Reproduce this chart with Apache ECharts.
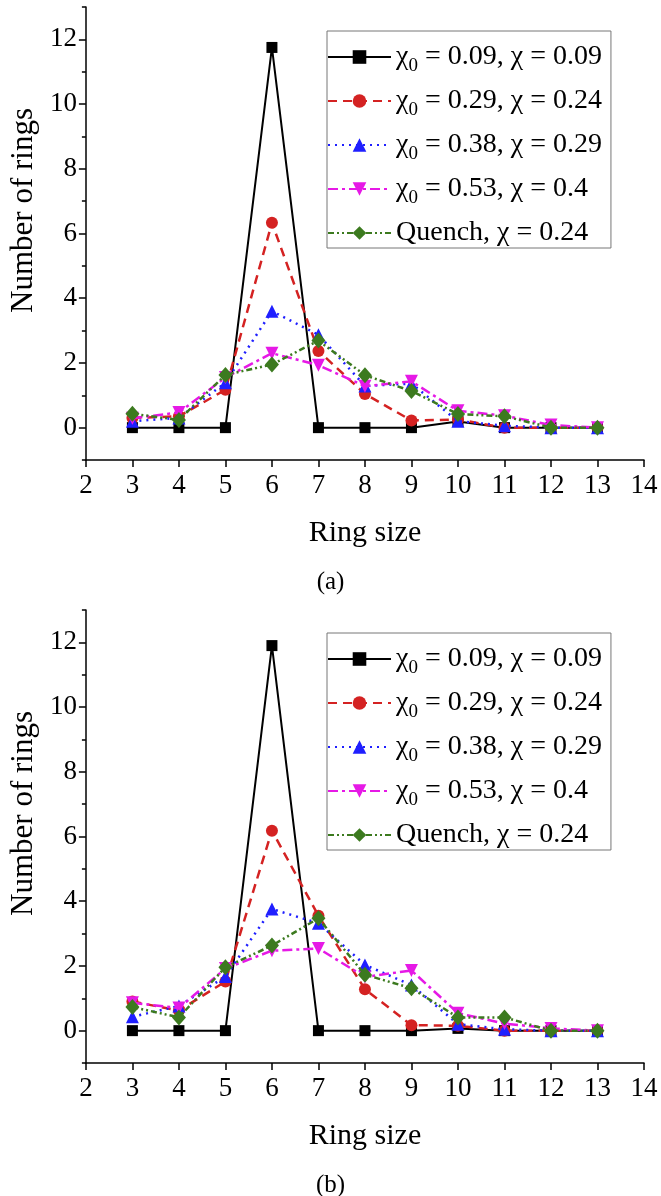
<!DOCTYPE html>
<html>
<head>
<meta charset="utf-8">
<script src="https://cdn.jsdelivr.net/npm/echarts@6/dist/echarts.min.js"></script>
<style>
  html, body { margin: 0; padding: 0; background: #fff; }
  #chart { width: 661px; height: 1196px; }
</style>
</head>
<body>
<div id="chart"></div>
<script>
// ring sizes on the x axis
const ringSize = [3, 4, 5, 6, 7, 8, 9, 10, 11, 12, 13]
const yMajor = [0, 2, 4, 6, 8, 10, 12]
const yMinor = [-1, 1, 3, 5, 7, 9, 11, 13]

const seriesNames = [
  'χ0 = 0.09, χ = 0.09',
  'χ0 = 0.29, χ = 0.24',
  'χ0 = 0.38, χ = 0.29',
  'χ0 = 0.53, χ = 0.4',
  'Quench, χ = 0.24'
]

// panel (a)
const a_009 = [0, 0, 0, 11.75, 0, 0, 0, 0.19, 0, 0, 0]
const a_029 = [0.3, 0.35, 1.17, 6.33, 2.37, 1.04, 0.22, 0.25, 0, 0, 0]
const a_038 = [0.2, 0.3, 1.39, 3.6, 2.87, 1.29, 1.36, 0.2, 0.06, 0, 0]
const a_053 = [0.29, 0.47, 1.55, 2.3, 1.93, 1.28, 1.43, 0.52, 0.37, 0.08, 0]
const a_quench = [0.43, 0.24, 1.63, 1.95, 2.69, 1.62, 1.13, 0.42, 0.35, 0, 0]

// panel (b)
const b_009 = [0, 0, 0, 11.9, 0, 0, 0, 0.07, 0, 0, 0]
const b_029 = [0.9, 0.62, 1.52, 6.18, 3.55, 1.28, 0.17, 0.15, 0, 0, 0]
const b_038 = [0.43, 0.76, 1.67, 3.76, 3.32, 2.03, 1.41, 0.2, 0.04, 0, 0]
const b_053 = [0.86, 0.7, 1.92, 2.47, 2.54, 1.66, 1.86, 0.54, 0.22, 0.07, 0]
const b_quench = [0.73, 0.41, 1.96, 2.63, 3.47, 1.73, 1.31, 0.41, 0.41, 0, 0]

const FONT = 'Liberation Serif'
const downTri = 'path://M0,0 L10,0 L5,9 Z'

const styles = [
  { color: '#000000', type: 'solid', width: 2, symbol: 'rect', size: 11 },
  { color: '#d42222', type: [9, 6], width: 2.5, symbol: 'circle', size: 12 },
  { color: '#1f1fff', type: [2, 5], width: 2.5, symbol: 'triangle', size: 13 },
  { color: '#e619e6', type: [10, 4, 3, 4], width: 2.5, symbol: downTri, size: 13 },
  { color: '#3c7a1f', type: [6, 3, 2, 3, 2, 3], width: 2.5, symbol: 'diamond', size: [14, 16] }
]

const makeSeries = (arrays, g) => arrays.map((vals, i) => ({
  name: seriesNames[i],
  type: 'line',
  xAxisIndex: g,
  yAxisIndex: g * 2,
  data: ringSize.map((x, k) => [x, vals[k]]),
  symbol: styles[i].symbol,
  symbolSize: styles[i].size,
  showAllSymbol: true,
  itemStyle: { color: styles[i].color },
  lineStyle: { color: styles[i].color, width: styles[i].width, type: styles[i].type },
  z: 2 + i
}))

const axisColor = '#000'
const makeX = (g) => ({
  type: 'value',
  gridIndex: g,
  min: 2,
  max: 14,
  interval: 1,
  axisLine: { show: true, onZero: false, lineStyle: { color: axisColor, width: 1.5 } },
  axisTick: { show: true, length: 7, lineStyle: { color: axisColor, width: 1.5 } },
  axisLabel: { fontFamily: FONT, fontSize: 27, color: '#000', margin: 12 },
  splitLine: { show: false },
  name: 'Ring size',
  nameLocation: 'middle',
  nameGap: 58,
  nameTextStyle: { fontFamily: FONT, fontSize: 30, color: '#000' }
})

const makeY = (g) => ([
  {
    type: 'value',
    gridIndex: g,
    position: 'left',
    min: -1,
    max: 13,
    axisLine: { show: true, onZero: false, lineStyle: { color: axisColor, width: 1.5 } },
    axisTick: { show: true, length: 7, customValues: yMajor, lineStyle: { color: axisColor, width: 1.5 } },
    axisLabel: { customValues: yMajor, fontFamily: FONT, fontSize: 27, color: '#000', margin: 9 },
    splitLine: { show: false },
    name: 'Number of rings',
    nameLocation: 'middle',
    nameRotate: 90,
    nameGap: 42,
    nameTextStyle: { fontFamily: FONT, fontSize: 31, color: '#000', padding: [0, 0, 0, 46] }
  },
  {
    type: 'value',
    gridIndex: g,
    position: 'left',
    offset: 0,
    min: -1,
    max: 13,
    axisLine: { show: false },
    axisTick: { show: true, length: 4, customValues: yMinor, lineStyle: { color: axisColor, width: 1.5 } },
    axisLabel: { show: false },
    splitLine: { show: false }
  }
])

const makeLegend = (top) => ({
  orient: 'vertical',
  left: 327,
  top: top,
  data: seriesNames,
  selectedMode: false,
  itemWidth: 63,
  itemHeight: 17,
  itemGap: 10,
  padding: [11, 9, 0, 0],
  borderColor: '#777',
  borderWidth: 1,
  formatter: (name) => name.replace('χ0', 'χ{sub|0}'),
  textStyle: {
    fontFamily: FONT,
    fontSize: 28,
    color: '#000',
    lineHeight: 30,
    rich: {
      // subscript zero, pushed below the baseline
      sub: { fontFamily: FONT, fontSize: 19, lineHeight: 8, verticalAlign: 'bottom', padding: [0, 0, -4, 0], color: '#000' }
    }
  }
})

const chart = echarts.init(document.getElementById('chart'))

const option = {
  backgroundColor: '#fff',
  animation: false,
  title: [
    { text: '(a)', left: 'center', top: 565, textStyle: { fontFamily: FONT, fontSize: 25, fontWeight: 'normal', color: '#000' } },
    { text: '(b)', left: 'center', top: 1168, textStyle: { fontFamily: FONT, fontSize: 25, fontWeight: 'normal', color: '#000' } }
  ],
  grid: [
    { left: 84, right: 17, top: 7, height: 453 },
    { left: 84, right: 17, top: 610, height: 453 }
  ],
  legend: [makeLegend(31), makeLegend(633)],
  xAxis: [makeX(0), makeX(1)],
  yAxis: [...makeY(0), ...makeY(1)],
  series: [
    ...makeSeries([a_009, a_029, a_038, a_053, a_quench], 0),
    ...makeSeries([b_009, b_029, b_038, b_053, b_quench], 1)
  ]
}

chart.setOption(option)
</script>
</body>
</html>
